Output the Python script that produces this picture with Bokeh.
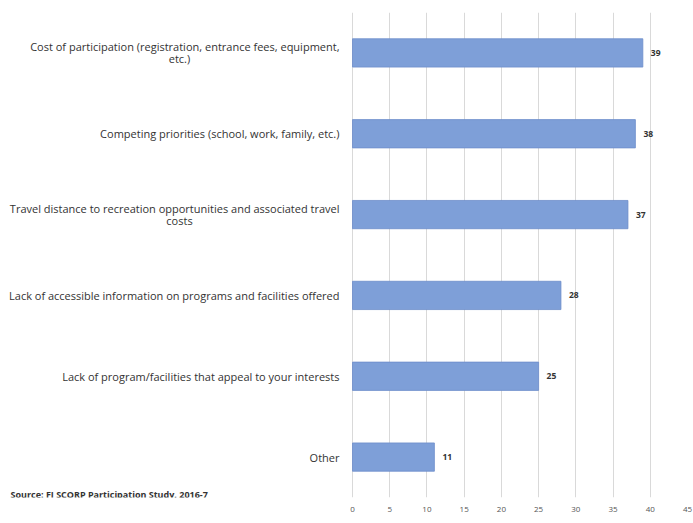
from bokeh.plotting import figure
from bokeh.models import ColumnDataSource, FactorRange, Range1d
from bokeh.core.properties import value
from bokeh.embed import file_html
from bokeh.resources import INLINE

category_lines = [
    ["Cost of participation (registration, entrance fees, equipment,", "etc.)"],
    ["Competing priorities (school, work, family, etc.)"],
    ["Travel distance to recreation opportunities and associated travel", "costs"],
    ["Lack of accessible information on programs and facilities offered"],
    ["Lack of program/facilities that appeal to your interests"],
    ["Other"],
]
values = [39, 38, 37, 28, 25, 11]
x_ticks = [0, 5, 10, 15, 20, 25, 30, 35, 40, 45]
source_note = "Source:  FI SCORP Participation Study, 2016-7"

FONT = "Open Sans"
LABEL_SIZE = "11px"

categories = [" ".join(l) for l in category_lines]

# frame geometry (pixels) -> data range for left label area
frame_left_px, zero_px, frame_right_px = 0, 352, 687
units_per_px = 45 / (frame_right_px - zero_px)
x_start = -(zero_px - frame_left_px) * units_per_px
label_gap = -13 * units_per_px

src = ColumnDataSource(dict(cat=categories, val=values, lbl=[str(v) for v in values]))

p = figure(
    width=693, height=523,
    y_range=FactorRange(*list(reversed(categories)), range_padding=0),
    x_range=Range1d(x_start, 45),
    output_backend="svg", toolbar_location=None,
    min_border_left=0, min_border_right=6, min_border_top=12, min_border_bottom=26,
)
p.outline_line_color = None
p.background_fill_color = "white"

p.hbar(y="cat", right="val", height=0.35, source=src,
       fill_color="#7e9fd8", line_color="#6d8dca", line_width=0.8)

p.text(x="val", y="cat", text="lbl", source=src, x_offset=8,
       text_font=value(FONT), text_font_size="8.5px", text_font_style="bold",
       text_color="#333333", text_baseline="middle", text_align="left")

# category labels: single-line ones right-aligned, wrapped ones as a centered block
single = [(c, l[0]) for c, l in zip(categories, category_lines) if len(l) == 1]
wrapped = [(c, l) for c, l in zip(categories, category_lines) if len(l) > 1]

p.text(x=[label_gap] * len(single), y=[c for c, _ in single], text=[t for _, t in single],
       text_font=value(FONT), text_font_size=LABEL_SIZE, text_color="#333333",
       text_baseline="middle", text_align="right")
p.text(x=[label_gap] * len(wrapped), y=[c for c, _ in wrapped], text=[l[0] for _, l in wrapped],
       y_offset=-6, text_font=value(FONT), text_font_size=LABEL_SIZE, text_color="#333333",
       text_baseline="middle", text_align="right")
second_center = label_gap - 160 * units_per_px
p.text(x=[second_center] * len(wrapped), y=[c for c, _ in wrapped], text=[l[1] for _, l in wrapped],
       y_offset=6, text_font=value(FONT), text_font_size=LABEL_SIZE, text_color="#333333",
       text_baseline="middle", text_align="center")

p.text(x=[x_start + 10 * units_per_px], y=[0.04], text=[source_note],
       text_font=value(FONT), text_font_size="9px", text_font_style="bold",
       text_color="#333333", text_baseline="middle", text_align="left")

p.xaxis.ticker = x_ticks
p.xaxis.axis_line_color = None
p.xaxis.major_tick_line_color = None
p.xaxis.minor_tick_line_color = None
p.xaxis.major_label_text_font = FONT
p.xaxis.major_label_text_font_size = "8px"
p.xaxis.major_label_text_color = "#555555"
p.xaxis.major_label_standoff = 3

p.yaxis.visible = False

p.xgrid.grid_line_color = "#d9d9d9"
p.xgrid.ticker = x_ticks
p.ygrid.grid_line_color = None

open("out.html", "w").write(file_html(p, INLINE))
